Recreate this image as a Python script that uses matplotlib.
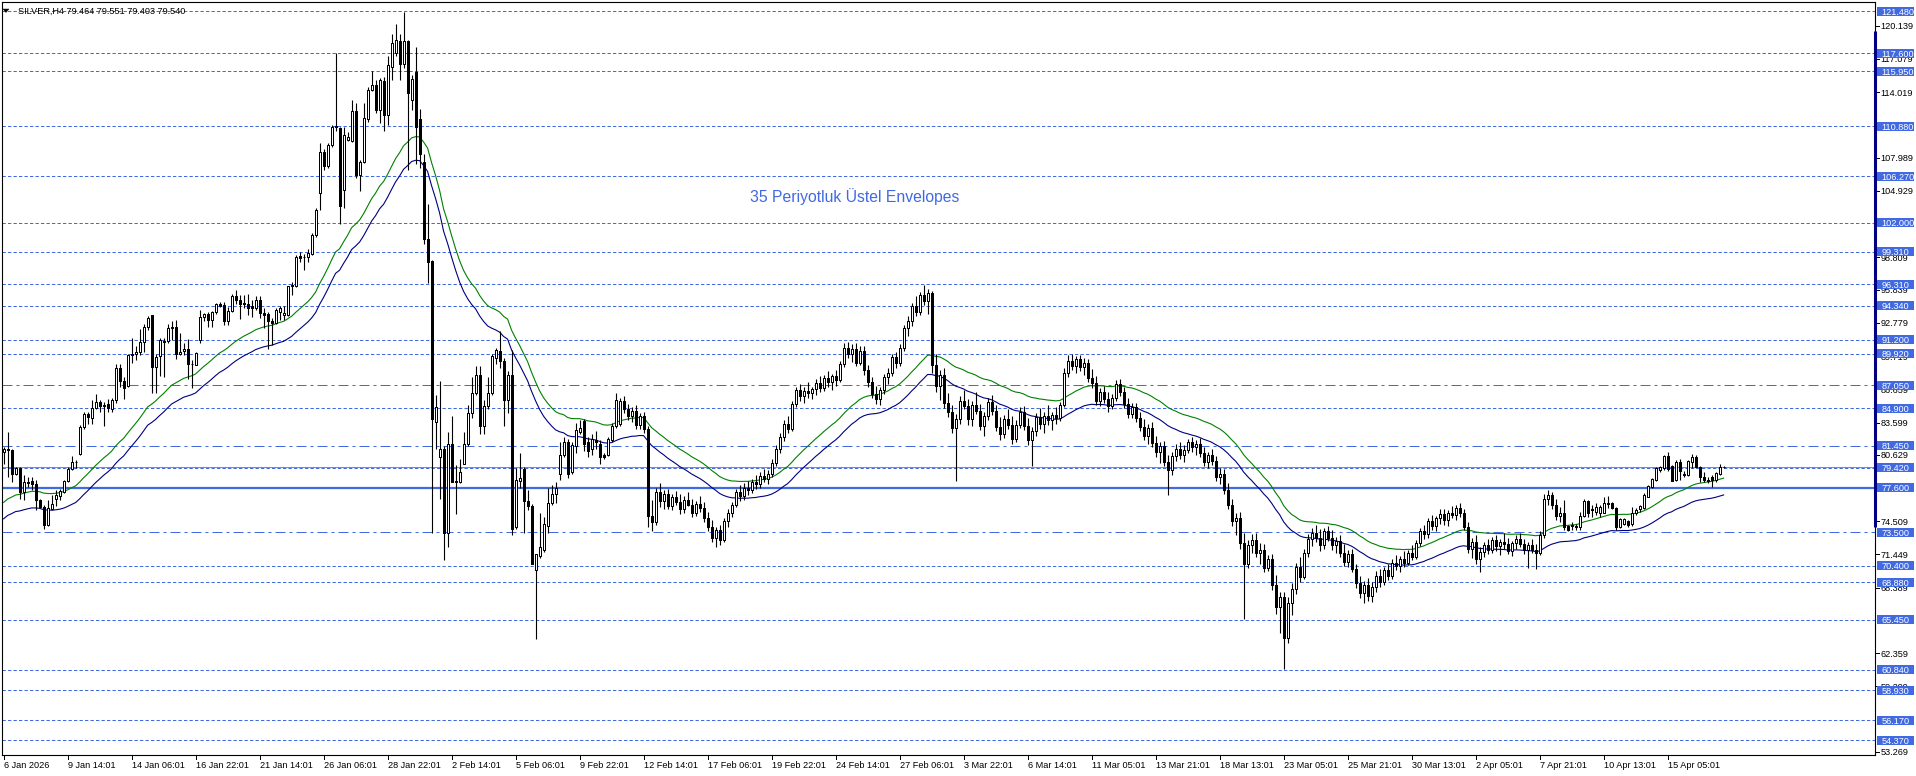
import matplotlib
matplotlib.use("Agg")
import matplotlib.pyplot as plt
from matplotlib.patches import Rectangle, Polygon
from matplotlib.collections import PatchCollection
from matplotlib.lines import Line2D
from matplotlib.transforms import blended_transform_factory
import numpy as np

# ---------------- data (H4 bars) ----------------
opens = [80.85, 81.2, 81.1, 78.9, 79.4, 77.2, 78.1, 78.2, 77.9, 76.5,
         75.85, 74.2, 75.6, 76.6, 76.8, 77.2, 78.2, 79.3, 80.0, 80.7,
         83.2, 84.35, 84.0, 84.9, 85.45, 85.1, 85.3, 84.8, 85.7, 88.6,
         87.45, 87.0, 89.8, 89.95, 90.1, 91.0, 92.35, 93.5, 88.7, 89.7,
         91.1, 91.1, 92.3, 92.4, 89.9, 90.2, 90.4, 89.0, 88.9, 91.2,
         93.3, 93.6, 93.0, 93.8, 94.5, 94.4, 92.9, 93.9, 95.2, 94.9,
         94.6, 94.5, 94.3, 94.1, 94.9, 93.7, 93.6, 92.95, 92.8, 93.8,
         93.5, 93.5, 96.2, 96.2, 98.9, 98.8, 98.8, 99.1, 100.9, 104.7,
         108.5, 107.2, 109.1, 110.9, 110.7, 105.0, 109.6, 109.5, 112.3, 106.4,
         107.6, 111.5, 114.2, 114.7, 112.4, 115.0, 111.9, 116.35, 117.6, 118.75,
         116.6, 118.7, 113.3, 115.9, 111.5, 107.6, 100.5, 98.5, 83.6, 80.4,
         81.2, 73.4, 81.65, 78.2, 78.1, 79.8, 81.65, 84.5, 86.3, 87.96,
         83.3, 85.1, 86.3, 89.5, 90.2, 89.25, 85.65, 88.0, 74.0, 78.2,
         79.3, 76.4, 75.9, 70.0, 71.3, 71.9, 74.1, 76.2, 77.0, 78.9,
         80.6, 81.85, 79.0, 81.4, 82.7, 83.7, 81.85, 81.2, 81.95, 81.6,
         80.6, 80.6, 81.95, 83.3, 83.5,
         85.6, 84.8, 84.2, 84.7, 83.4, 84.2, 83.0, 75.0, 74.4, 77.2,
         76.4, 77.0, 75.9, 76.7, 76.3, 75.6, 76.5, 76.0, 75.3, 76.1,
         75.7, 74.8, 74.0, 73.0, 73.7, 72.8, 74.5, 75.3, 76.0, 77.2,
         76.8, 77.6, 77.4, 78.1, 77.9, 78.7, 78.4, 78.9, 79.9, 81.2,
         82.3, 83.5, 83.0, 85.3, 86.6, 86.0, 86.5, 86.3, 86.7, 87.2,
         86.8, 87.7, 87.3, 87.9, 87.5, 89.0, 90.5, 89.9, 90.4, 89.1,
         90.2, 88.4, 87.3, 86.2, 85.8, 86.6, 87.8, 88.2, 89.6, 89.1,
         90.5, 92.3, 92.9, 94.3, 93.8, 95.3, 94.8, 95.5, 88.9, 87.0,
         88.0, 85.4, 84.6, 83.1, 83.9, 85.6, 85.1, 83.9, 85.2, 84.7,
         83.3, 84.2, 85.5, 84.7, 83.2, 82.5, 83.9, 83.4, 82.1, 83.4,
         84.6, 83.3, 82.0, 82.8, 84.1, 83.5, 84.2, 83.8, 84.3, 84.0,
         85.2, 88.2, 89.3, 88.8, 89.4, 88.7, 89.1, 87.7, 87.2, 85.6,
         86.4, 85.8, 85.1, 85.9, 87.1, 86.4, 85.3, 84.4, 85.0, 84.0,
         83.2, 82.4, 83.1, 81.7, 80.9, 81.4, 80.0, 79.2, 80.5, 81.2,
         80.6, 81.1, 81.8, 81.3, 81.6, 80.8, 80.0, 80.6, 80.1, 78.6,
         78.9, 77.4, 76.0, 74.5, 74.8, 72.5, 70.6, 72.3, 72.8, 71.6,
         71.9, 70.2, 71.0, 68.6, 66.6, 67.5, 63.8, 67.0, 68.3, 70.3,
         69.4, 71.6, 72.9, 73.4, 73.0, 72.3, 73.6, 73.0, 72.3, 72.7,
         71.6, 70.8, 71.5, 70.1, 68.8, 67.9, 68.6, 67.6, 68.5, 69.5,
         68.9, 70.0, 69.5, 70.7, 70.4, 71.0, 70.7, 71.6, 71.2, 72.5,
         73.6, 73.3, 74.5, 74.1, 74.8, 75.2, 74.6, 75.3, 75.1, 75.7,
         75.3, 74.0, 72.0, 72.6, 71.0, 71.7, 72.3, 71.9, 72.8, 72.2,
         72.6, 72.4, 71.8, 72.5, 72.9, 72.4, 71.9, 72.3, 71.9, 71.6,
         73.2, 76.6, 76.9, 76.0, 75.0, 75.24, 74.1, 74.2, 74.1, 74.0,
         75.0, 76.37, 75.6, 75.4, 75.3, 75.3, 76.16, 76.22, 75.7, 74.0,
         74.3, 74.5, 74.26, 75.24, 75.6, 75.7, 76.77, 77.7, 78.3, 79.2,
         79.38, 80.52, 79.6, 78.3, 79.99, 78.9, 78.8, 79.99, 80.39, 79.47,
         78.61, 78.31, 78.6, 78.31, 78.86, 79.464]
highs = [81.35, 82.7, 81.2, 79.5, 79.5, 78.8, 78.6, 78.6, 78.3, 76.6,
         76.0, 76.5, 76.9, 77.4, 77.5, 78.3, 79.5, 80.5, 80.15, 83.4,
         84.6, 84.6, 85.7, 86.2, 85.7, 85.5, 85.8, 85.9, 89.0, 89.0,
         87.8, 89.95, 91.4, 90.6, 92.2, 92.7, 93.4, 93.5, 89.9, 91.35,
         91.4, 92.7, 92.9, 93.0, 91.8, 90.9, 91.3, 89.35, 90.1, 94.0,
         93.7, 93.8, 93.9, 94.6, 94.7, 94.7, 94.26, 95.4, 95.8, 95.3,
         95.3, 95.4, 94.9, 95.2, 95.2, 94.1, 93.8, 93.2, 94.1, 94.3,
         94.3, 96.2, 96.55, 99.0, 99.3, 99.1, 99.6, 101.0, 103.3, 109.3,
         108.8, 109.3, 111.0, 117.6, 110.8, 110.8, 110.3, 113.3, 113.0, 107.8,
         113.0, 114.5, 116.0, 115.1, 115.3, 115.4, 117.3, 119.4, 120.3, 119.4,
         121.4, 118.8, 115.6, 118.2, 112.5, 108.3, 103.7, 98.6, 86.1, 87.4,
         81.4, 82.7, 84.2, 79.7, 80.2, 82.7, 85.2, 87.8, 88.8, 88.8,
         85.65, 87.8, 89.9, 90.5, 92.0, 89.5, 88.3, 90.3, 79.4, 80.8,
         79.5, 77.4, 76.1, 71.5, 75.3, 74.9, 77.6, 77.8, 78.1, 81.85,
         82.3, 82.1, 81.85, 83.55, 83.8, 83.9, 82.3, 82.5, 82.8, 82.0,
         80.8, 82.3, 83.55, 86.3, 85.9,
         86.0, 85.3, 85.0, 85.2, 84.5, 84.6, 83.3, 76.5, 77.6, 78.0,
         77.4, 77.5, 77.0, 77.3, 77.0, 76.8, 77.2, 76.6, 76.4, 76.8,
         76.3, 75.4, 74.6, 74.0, 74.2, 74.8, 75.6, 76.3, 77.5, 77.8,
         78.0, 78.2, 78.4, 78.8, 79.0, 79.3, 79.2, 80.2, 81.5, 82.6,
         83.8, 84.2, 85.6, 86.9, 87.1, 86.9, 87.3, 86.9, 87.6, 87.9,
         88.0, 88.3, 88.1, 88.4, 89.3, 90.9, 91.0, 90.8, 90.9, 90.6,
         90.6, 88.9, 87.8, 87.0, 86.9, 88.1, 88.6, 89.9, 90.1, 90.8,
         92.6, 93.4, 94.6, 95.2, 95.6, 96.3, 95.9, 95.7, 89.9, 88.4,
         88.6, 86.3, 85.2, 84.4, 86.0, 86.6, 85.8, 85.6, 86.4, 85.3,
         84.6, 85.9, 86.1, 85.2, 84.1, 84.3, 84.8, 84.2, 83.8, 85.0,
         85.1, 84.0, 83.2, 84.5, 84.9, 84.6, 85.2, 84.6, 85.0, 85.5,
         88.6, 89.8, 89.9, 89.7, 89.8, 89.5, 89.4, 88.5, 87.9, 86.8,
         87.0, 86.4, 86.2, 87.5, 87.6, 86.9, 85.9, 85.4, 85.4, 84.6,
         83.9, 83.5, 83.6, 82.4, 81.8, 81.9, 80.6, 80.9, 81.6, 81.8,
         81.5, 82.1, 82.3, 82.0, 82.2, 81.3, 80.9, 81.2, 80.5, 79.4,
         79.3, 78.0, 76.6, 75.3, 75.4, 73.4, 72.8, 73.3, 73.4, 72.5,
         72.4, 71.4, 71.5, 69.6, 68.0, 68.0, 67.5, 68.8, 70.7, 71.2,
         72.0, 73.3, 73.9, 74.2, 73.8, 73.9, 74.1, 73.7, 73.1, 73.2,
         72.4, 71.9, 72.0, 70.6, 69.5, 69.0, 69.3, 68.9, 69.9, 70.1,
         70.3, 70.6, 71.0, 71.4, 71.3, 71.8, 71.9, 72.3, 72.8, 73.9,
         74.2, 74.8, 75.1, 75.0, 75.6, 75.6, 75.5, 75.9, 76.0, 76.2,
         75.6, 74.4, 73.0, 73.2, 72.1, 72.6, 72.9, 73.1, 73.2, 72.9,
         73.4, 73.0, 72.7, 73.2, 73.4, 72.9, 72.6, 72.9, 72.4, 73.6,
         77.0, 77.4, 77.2, 76.6, 75.8, 76.5, 74.2, 74.4, 74.3, 75.4,
         76.6, 76.5, 76.0, 76.16, 76.0, 76.77, 76.8, 76.3, 75.8, 74.8,
         74.8, 74.6, 75.85, 75.7, 76.0, 77.1, 77.8, 78.5, 79.5, 79.6,
         80.61, 80.92, 79.7, 80.15, 80.21, 79.1, 80.15, 80.70, 80.61, 79.6,
         79.07, 78.6, 78.77, 79.07, 79.75, 79.551]
lows = [79.75, 78.6, 78.15, 78.8, 76.6, 76.5, 77.7, 77.4, 75.5, 75.7,
        73.8, 74.1, 75.5, 75.9, 76.5, 77.1, 78.1, 79.2, 79.4, 80.6,
        82.97, 83.5, 83.5, 84.8, 84.6, 83.3, 84.6, 84.6, 85.4, 86.9,
        85.8, 86.9, 89.1, 89.35, 89.8, 90.1, 92.1, 86.3, 86.3, 87.9,
        87.8, 90.9, 91.2, 89.4, 89.8, 89.8, 87.6, 86.8, 88.9, 90.95,
        92.9, 92.4, 92.4, 93.6, 94.2, 92.57, 92.6, 93.8, 94.5, 93.1,
        94.1, 93.5, 93.3, 93.95, 93.2, 92.3, 90.33, 90.7, 92.7, 93.0,
        93.0, 93.4, 95.3, 96.1, 98.4, 97.6, 98.4, 99.0, 100.7, 103.2,
        106.8, 107.0, 109.0, 110.4, 101.9, 103.3, 109.5, 109.4, 106.1, 104.9,
        107.5, 111.3, 114.1, 112.1, 111.2, 110.4, 111.0, 115.1, 117.3, 115.1,
        116.2, 106.8, 112.4, 107.4, 107.0, 100.0, 96.4, 73.4, 81.2, 76.6,
        70.96, 72.1, 78.1, 75.2, 78.0, 79.8, 81.4, 84.0, 86.1, 82.5,
        82.5, 84.8, 86.1, 89.0, 88.6, 83.3, 84.5, 73.2, 73.8, 77.6,
        73.4, 75.5, 70.6, 63.7, 71.1, 71.7, 73.4, 76.0, 76.2, 78.3,
        80.4, 78.5, 78.9, 80.8, 82.5, 81.0, 80.4, 80.6, 81.2, 79.8,
        80.2, 80.5, 81.85, 83.1, 83.3,
        84.5, 83.8, 83.6, 83.0, 83.0, 82.6, 74.0, 73.6, 74.2, 75.8,
        75.6, 75.6, 75.5, 76.0, 75.2, 75.3, 75.9, 74.9, 75.0, 75.4,
        74.4, 73.6, 72.6, 72.1, 72.3, 72.6, 74.0, 74.9, 75.8, 76.4,
        76.5, 76.9, 77.1, 77.5, 77.6, 78.1, 77.9, 78.6, 79.6, 80.8,
        81.9, 82.6, 82.8, 85.0, 85.6, 85.4, 85.9, 85.8, 86.1, 86.4,
        86.5, 86.9, 86.6, 87.0, 87.3, 88.7, 89.5, 89.2, 88.8, 88.9,
        88.0, 86.9, 85.9, 85.3, 85.2, 86.2, 87.1, 87.9, 88.6, 88.8,
        90.2, 91.6, 92.5, 93.4, 93.5, 94.4, 93.6, 88.2, 86.4, 85.7,
        84.9, 84.1, 82.6, 78.2, 83.5, 84.8, 83.4, 83.3, 84.4, 82.9,
        82.4, 83.8, 84.3, 82.8, 82.0, 82.2, 83.0, 81.6, 81.8, 83.1,
        82.9, 81.5, 79.6, 82.4, 83.0, 82.6, 83.4, 82.9, 83.5, 83.7,
        85.0, 87.8, 88.4, 88.2, 88.3, 88.0, 87.3, 86.8, 85.2, 85.1,
        85.4, 84.6, 84.8, 85.6, 86.0, 84.9, 84.0, 84.0, 83.6, 82.8,
        82.0, 81.6, 81.3, 80.4, 79.9, 79.6, 76.9, 78.8, 80.1, 80.2,
        80.0, 80.8, 80.9, 80.6, 80.4, 79.6, 79.4, 79.7, 78.2, 77.9,
        77.0, 75.6, 74.1, 73.2, 72.0, 65.5, 70.2, 71.6, 71.2, 70.6,
        69.8, 69.9, 68.2, 66.0, 64.2, 60.9, 63.3, 65.9, 67.8, 68.9,
        69.2, 71.2, 72.2, 72.6, 71.8, 72.0, 72.7, 71.9, 71.6, 71.2,
        70.4, 70.3, 69.8, 68.4, 67.4, 67.0, 67.2, 67.1, 68.0, 68.5,
        68.6, 69.1, 69.2, 70.0, 69.8, 70.3, 70.5, 70.9, 71.0, 72.2,
        72.9, 73.0, 73.7, 73.6, 74.3, 74.2, 74.1, 74.8, 74.6, 74.9,
        73.7, 71.6, 71.1, 70.6, 69.8, 71.2, 71.5, 71.6, 71.8, 71.4,
        72.0, 71.5, 71.3, 72.0, 72.1, 71.5, 70.2, 71.6, 70.1, 71.4,
        73.0, 76.0, 75.6, 74.6, 74.4, 73.7, 73.6, 73.7, 73.7, 73.7,
        74.93, 74.93, 74.93, 75.1, 74.93, 75.24, 75.7, 75.6, 73.7, 73.9,
        74.2, 74.0, 74.1, 75.1, 75.4, 75.6, 76.7, 77.6, 78.2, 79.0,
        79.2, 79.17, 78.25, 78.25, 78.3, 78.6, 78.7, 79.38, 79.38, 78.15,
        78.15, 78.0, 77.63, 78.15, 78.77, 79.403]
closes = [81.2, 81.1, 78.9, 79.4, 77.2, 78.1, 78.0, 77.9, 76.5, 75.85,
          74.2, 75.7, 76.1, 76.9, 77.3, 78.2, 79.3, 80.0, 79.95, 83.2,
          84.35, 84.1, 84.9, 85.45, 85.1, 85.2, 84.9, 85.7, 88.6, 87.45,
          86.8, 89.8, 89.95, 90.1, 91.0, 92.35, 93.2, 88.7, 89.65, 91.2,
          91.0, 92.3, 92.4, 89.9, 90.1, 90.4, 89.0, 88.95, 90.0, 93.3,
          93.6, 93.0, 93.8, 94.5, 94.3, 92.9, 93.86, 95.2, 94.9, 94.5,
          94.5, 94.1, 94.1, 94.9, 93.65, 93.5, 92.97, 92.8, 94.0, 94.1,
          93.7, 96.2, 96.3, 98.8, 98.7, 98.8, 99.2, 100.86, 103.16, 108.5,
          107.2, 109.1, 110.8, 110.8, 103.5, 110.07, 109.9, 112.3, 106.4, 107.6,
          111.6, 114.2, 114.7, 112.4, 115.1, 111.9, 116.5, 118.5, 118.8, 116.6,
          118.7, 113.96, 115.2, 110.8, 108.3, 100.5, 98.4, 83.9, 85.0, 81.2,
          73.4, 81.65, 78.1, 78.1, 79.0, 81.65, 84.5, 86.3, 87.96, 83.3,
          85.1, 86.3, 89.7, 90.3, 89.25, 85.65, 88.0, 73.8, 78.3, 78.5,
          76.4, 75.9, 70.6, 71.5, 72.1, 74.3, 76.2, 77.0, 77.6, 80.6,
          81.85, 78.9, 81.5, 82.9, 83.1, 81.65, 81.0, 82.1, 81.8, 80.4,
          80.4, 82.1, 83.3, 85.65, 85.6,
          84.8, 84.2, 84.7, 83.4, 84.2, 83.0, 75.0, 74.4, 77.2, 76.4,
          77.0, 75.9, 76.7, 76.3, 75.6, 76.5, 76.0, 75.3, 76.1, 75.7,
          74.8, 74.0, 73.0, 73.7, 72.8, 74.5, 75.3, 76.0, 77.2, 76.8,
          77.6, 77.4, 78.1, 77.9, 78.7, 78.4, 78.9, 79.9, 81.2, 82.3,
          83.5, 83.0, 85.3, 86.6, 86.0, 86.5, 86.3, 86.7, 87.2, 86.8,
          87.7, 87.3, 87.9, 87.5, 89.0, 90.5, 89.9, 90.4, 89.1, 90.2,
          88.4, 87.3, 86.2, 85.8, 86.6, 87.8, 88.2, 89.6, 89.1, 90.5,
          92.3, 92.9, 94.3, 93.8, 95.3, 94.8, 95.5, 88.9, 87.0, 88.0,
          85.4, 84.6, 83.1, 83.9, 85.6, 85.1, 83.9, 85.2, 84.7, 83.3,
          84.2, 85.5, 84.7, 83.2, 82.5, 83.9, 83.4, 82.1, 83.4, 84.6,
          83.3, 82.0, 82.8, 84.1, 83.5, 84.2, 83.8, 84.3, 84.0, 85.2,
          88.2, 89.3, 88.8, 89.4, 88.7, 89.1, 87.7, 87.2, 85.6, 86.4,
          85.8, 85.1, 85.9, 87.1, 86.4, 85.3, 84.4, 85.0, 84.0, 83.2,
          82.4, 83.1, 81.7, 80.9, 81.4, 80.0, 79.2, 80.5, 81.2, 80.6,
          81.1, 81.8, 81.3, 81.6, 80.8, 80.0, 80.6, 80.1, 78.6, 78.9,
          77.4, 76.0, 74.5, 74.8, 72.5, 70.6, 72.3, 72.8, 71.6, 71.9,
          70.2, 71.0, 68.6, 66.6, 67.5, 63.8, 67.0, 68.3, 70.3, 69.4,
          71.6, 72.9, 73.4, 73.0, 72.3, 73.6, 73.0, 72.3, 72.7, 71.6,
          70.8, 71.5, 70.1, 68.8, 67.9, 68.6, 67.6, 68.5, 69.5, 68.9,
          70.0, 69.5, 70.7, 70.4, 71.0, 70.7, 71.6, 71.2, 72.5, 73.6,
          73.3, 74.5, 74.1, 74.8, 75.2, 74.6, 75.3, 75.1, 75.7, 75.3,
          74.0, 72.0, 72.6, 71.0, 71.7, 72.3, 71.9, 72.8, 72.2, 72.6,
          72.4, 71.8, 72.5, 72.9, 72.4, 71.9, 72.3, 71.9, 71.6, 73.2,
          76.6, 76.9, 76.0, 75.0, 75.24, 74.0, 73.7, 74.1, 73.95, 75.0,
          76.37, 75.24, 75.5, 75.85, 75.85, 76.16, 76.07, 75.7, 74.0, 74.69,
          74.69, 74.2, 75.24, 75.54, 75.91, 76.93, 77.75, 78.43, 79.38, 79.47,
          80.52, 79.29, 78.25, 79.99, 79.1, 78.8, 80.06, 80.39, 79.47, 78.61,
          78.31, 78.25, 78.31, 78.92, 79.47, 79.54]

ema_period = 35
envelope_pct = 1.0
ema_seed = 75.15

levels_dashed = [121.48, 117.6, 115.95, 110.88, 106.27, 102.0, 99.31, 96.31,
                 94.34, 91.2, 89.92, 84.9, 79.42, 70.4, 68.88, 65.45, 60.84,
                 58.93, 56.17, 54.37]
levels_dashdot = [87.05, 81.45, 73.5]
level_solid = 77.6
bid_price = 79.54
axis_ticks = [120.139, 117.079, 114.019, 107.989, 104.929, 98.809, 95.839,
              92.779, 89.719, 86.659, 83.599, 80.629, 74.509, 71.449, 68.389,
              62.359, 59.299, 53.269]
xtick_bars = [0, 16, 32, 48, 64, 80, 96, 112, 128, 144, 160, 176, 192, 208,
              224, 240, 256, 272, 288, 304, 320, 336, 352, 368, 384, 400, 416]
xtick_labels = ["6 Jan 2026", "9 Jan 14:01", "14 Jan 06:01", "16 Jan 22:01",
                "21 Jan 14:01", "26 Jan 06:01", "28 Jan 22:01", "2 Feb 14:01",
                "5 Feb 06:01", "9 Feb 22:01", "12 Feb 14:01", "17 Feb 06:01",
                "19 Feb 22:01", "24 Feb 14:01", "27 Feb 06:01", "3 Mar 22:01",
                "6 Mar 14:01", "11 Mar 05:01", "13 Mar 21:01", "18 Mar 13:01",
                "23 Mar 05:01", "25 Mar 21:01", "30 Mar 13:01", "2 Apr 05:01",
                "7 Apr 21:01", "10 Apr 13:01", "15 Apr 05:01"]
header_text = "SILVER,H4 79.464 79.551 79.403 79.540"
title_text = "35 Periyotluk Üstel Envelopes"
range_bar = (74.0, 119.6)

# ---------------- style ----------------
W, H = 1916, 776
ROYAL = "#4169E1"
FONT = "Liberation Sans"
FS = 6.6

fig = plt.figure(figsize=(W / 100, H / 100), dpi=100)
fig.patch.set_facecolor("white")
ax_l, ax_r, ax_t, ax_b = 2, 1875, 2, 755
ax = fig.add_axes([ax_l / W, 1 - ax_b / H, (ax_r - ax_l) / W, (ax_b - ax_t) / H])
ax.set_facecolor("white")
n_px = ax_r - ax_l
bar_px = 4.0
xmin = -(3.6 - ax_l) / bar_px
ax.set_xlim(xmin, xmin + n_px / bar_px)
ax.set_ylim(52.99, 122.31)
ax.set_xticks([])
ax.set_yticks([])
for s in ax.spines.values():
    s.set_color("black")
    s.set_linewidth(0.8)

# level lines
for lv in levels_dashed:
    ax.axhline(lv, color=ROYAL, lw=0.72, dashes=(3.3, 2.2), zorder=1)
for lv in levels_dashdot:
    ax.axhline(lv, color=ROYAL, lw=0.72, dashes=(10, 4, 3, 4), zorder=1)
ax.axhline(level_solid, color=ROYAL, lw=1.6, zorder=1)
ax.axhline(bid_price, color="#8c8c8c", lw=0.72, zorder=1)

# envelopes (EMA of closes +/- percent)
n = min(len(opens), len(highs), len(lows), len(closes))
o = np.array(opens[:n]); h = np.array(highs[:n])
l = np.array(lows[:n]); c = np.array(closes[:n])
xs = np.arange(n)
alpha = 2.0 / (ema_period + 1)
ema = []
prev = ema_seed
for v in c:
    prev = prev + alpha * (v - prev)
    ema.append(prev)
ema = np.array(ema)
ax.plot(xs, ema * (1 + envelope_pct / 100), color="#008000", lw=0.8, zorder=2)
ax.plot(xs, ema * (1 - envelope_pct / 100), color="#000080", lw=0.8, zorder=2)

# candles
ax.vlines(xs, l, h, color="black", lw=0.8, zorder=3)
bw = 0.5
bull, bear = [], []
for i in range(n):
    lo_b = min(o[i], c[i]); hi_b = max(o[i], c[i])
    r = Rectangle((i - bw / 2, lo_b), bw, max(hi_b - lo_b, 0.0001))
    (bull if c[i] >= o[i] else bear).append(r)
ax.add_collection(PatchCollection(bull, facecolor="white", edgecolor="black", lw=0.72, zorder=4))
ax.add_collection(PatchCollection(bear, facecolor="black", edgecolor="black", lw=0.72, zorder=4))

# title inside chart
fig.text(855 / W, 1 - 197 / H, title_text, color=ROYAL,
         fontsize=11.3, family=FONT, ha="center", va="center")

# header
fig.text(18 / W, 1 - 11 / H, header_text, color="black", fontsize=FS, family=FONT,
         ha="left", va="center")
fig.add_artist(Polygon([[3 / W, 1 - 9 / H], [9 / W, 1 - 9 / H], [6 / W, 1 - 12.5 / H]],
                       closed=True, transform=fig.transFigure, facecolor="black",
                       edgecolor="black", lw=0.3))

# right axis
tr = blended_transform_factory(fig.transFigure, ax.transData)
for tv in axis_ticks:
    fig.add_artist(Line2D([ax_r / W, (ax_r + 4) / W], [tv, tv], transform=tr,
                          color="black", lw=0.72))
    fig.text(1880.5 / W, tv, f"{tv:.3f}", transform=tr, color="black", fontsize=FS,
             family=FONT, ha="left", va="center_baseline")
box_h = 9.0 / 10.863
for lv in levels_dashed + levels_dashdot + [level_solid]:
    fig.add_artist(Rectangle((1876.5 / W, lv - box_h / 2), 37 / W, box_h, transform=tr,
                             facecolor=ROYAL, edgecolor="none", zorder=5))
    fig.text(1881.5 / W, lv, f"{lv:.3f}", transform=tr, color="white", fontsize=FS,
             family=FONT, ha="left", va="center_baseline", zorder=6)

# navy range bar on right edge
fig.add_artist(Line2D([1874.8 / W, 1874.8 / W], list(range_bar), transform=tr,
                      color="#000080", lw=2.2, solid_capstyle="butt", zorder=4))

# x axis labels
for b, lab in zip(xtick_bars, xtick_labels):
    px = 3.6 + bar_px * b
    fig.add_artist(Line2D([px / W, px / W], [1 - ax_b / H, 1 - (ax_b + 4) / H],
                          transform=fig.transFigure, color="black", lw=0.72))
    fig.text((px + 0.5) / W, 1 - 765 / H, lab, color="black", fontsize=FS,
             family=FONT, ha="left", va="center")

fig.savefig("out.png", dpi=100, facecolor="white")
